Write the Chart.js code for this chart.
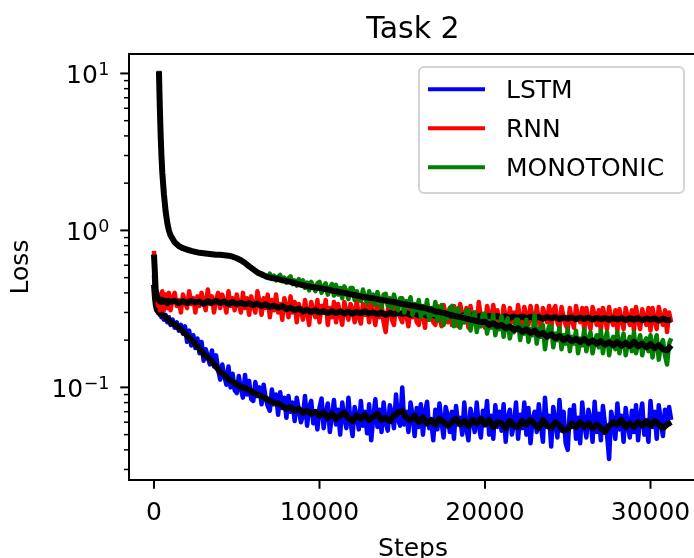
<!DOCTYPE html>
<html><head><meta charset="utf-8">
<script src="https://cdn.jsdelivr.net/npm/chart.js@4/dist/chart.umd.min.js"></script>
<style>
html,body{margin:0;padding:0;background:#fff;overflow:hidden;width:694px;height:558px}
#wrap{position:absolute;left:0;top:0;width:700px;height:558px}
</style>
</head><body><div id="wrap"><canvas id="c" width="700" height="558"></canvas></div>
<script>
const chartTitle = 'Task 2';
const xLabel = 'Steps';
const yLabel = 'Loss';
const seriesNames = ['LSTM', 'RNN', 'MONOTONIC'];

const xTickValues = [0, 10000, 20000, 30000];
const xTickLabels = ['0', '10000', '20000', '30000'];
const yMajorValues = [0.1, 1, 10];
const yTickBase = ['10', '10', '10'];
const yTickExp = ['\u22121', '0', '1'];
const yTickValues = [0.03,0.04,0.05,0.06,0.07,0.08,0.09,0.1,0.2,0.3,0.4,0.5,0.6,0.7,0.8,0.9,1,2,3,4,5,6,7,8,9,10];

// raw (noisy) training curves
const steps = [0,50,100,150,200,250,300,350,400,450,500,600,700,800,900,
1000,1125,1250,1375,1500,1625,1750,1875,
2000,2125,2250,2375,2500,2625,2750,2875,
3000,3125,3250,3375,3500,3625,3750,3875,
4000,4125,4250,4375,4500,4625,4750,4875,
5000,5125,5250,5375,5500,5625,5750,5875,
6000,6125,6250,6375,6500,6625,6750,6875,
7000,7125,7250,7375,7500,7625,7750,7875,
8000,8125,8250,8375,8500,8625,8750,8875,
9000,9125,9250,9375,9500,9625,9750,9875,
10000,10125,10250,10375,10500,10625,10750,10875,
11000,11125,11250,11375,11500,11625,11750,11875,
12000,12125,12250,12375,12500,12625,12750,12875,
13000,13125,13250,13375,13500,13625,13750,13875,
14000,14125,14250,14375,14500,14625,14750,14875,
15000,15125,15250,15375,15500,15625,15750,15875,
16000,16125,16250,16375,16500,16625,16750,16875,
17000,17125,17250,17375,17500,17625,17750,17875,
18000,18125,18250,18375,18500,18625,18750,18875,
19000,19125,19250,19375,19500,19625,19750,19875,
20000,20125,20250,20375,20500,20625,20750,20875,
21000,21125,21250,21375,21500,21625,21750,21875,
22000,22125,22250,22375,22500,22625,22750,22875,
23000,23125,23250,23375,23500,23625,23750,23875,
24000,24125,24250,24375,24500,24625,24750,24875,
25000,25125,25250,25375,25500,25625,25750,25875,
26000,26125,26250,26375,26500,26625,26750,26875,
27000,27125,27250,27375,27500,27625,27750,27875,
28000,28125,28250,28375,28500,28625,28750,28875,
29000,29125,29250,29375,29500,29625,29750,29875,
30000,30125,30250,30375,30500,30625,30750,30875,
31000,31125,31250];

const lstmLoss = [0.52,0.40,0.34,0.31,0.33,0.30,0.31,0.29,0.32,0.28,0.30,0.27,0.29,0.26,0.28,
0.25,0.27,0.24,0.26,0.23,0.25,0.22,0.245,
0.195,0.23,0.185,0.215,0.178,0.205,0.165,0.195,
0.148,0.175,0.158,0.14,0.172,0.136,0.16,0.13,
0.112,0.14,0.118,0.104,0.136,0.1,0.122,0.096,
0.092,0.118,0.098,0.086,0.12,0.09,0.11,0.084,
0.082,0.108,0.088,0.1,0.078,0.104,0.085,0.076,
0.071,0.097,0.078,0.09,0.067,0.093,0.074,0.086,
0.064,0.088,0.07,0.08,0.061,0.086,0.072,0.06,
0.066,0.088,0.057,0.075,0.082,0.059,0.07,0.054,
0.074,0.085,0.055,0.068,0.079,0.052,0.066,0.083,
0.058,0.072,0.05,0.08,0.064,0.055,0.086,0.06,
0.049,0.075,0.066,0.054,0.082,0.057,0.07,0.051,
0.078,0.046,0.064,0.084,0.056,0.072,0.052,0.08,
0.06,0.053,0.077,0.068,0.055,0.09,0.062,0.057,
0.1,0.058,0.07,0.052,0.08,0.066,0.049,0.074,
0.056,0.078,0.05,0.069,0.081,0.055,0.062,0.046,
0.072,0.054,0.079,0.06,0.048,0.075,0.066,0.052,
0.07,0.047,0.076,0.058,0.064,0.05,0.08,0.055,
0.046,0.073,0.062,0.052,0.08,0.057,0.048,0.071,
0.06,0.082,0.05,0.066,0.047,0.077,0.056,0.07,
0.053,0.078,0.045,0.064,0.072,0.05,0.058,0.08,
0.047,0.067,0.055,0.08,0.05,0.074,0.044,0.063,
0.07,0.052,0.078,0.058,0.045,0.086,0.056,0.066,
0.042,0.075,0.06,0.048,0.083,0.053,0.07,0.044,
0.04,0.072,0.056,0.077,0.047,0.064,0.044,0.08,
0.058,0.048,0.072,0.062,0.045,0.081,0.052,0.068,
0.046,0.076,0.058,0.05,0.035,0.07,0.06,0.047,
0.079,0.054,0.066,0.045,0.074,0.058,0.048,0.071,
0.052,0.077,0.046,0.065,0.079,0.05,0.06,0.045,
0.082,0.056,0.07,0.047,0.077,0.061,0.049,0.072,
0.058,0.075,0.062];

const rnnLoss = [0.74,0.52,0.41,0.37,0.40,0.33,0.39,0.31,0.38,0.32,0.41,0.31,0.39,0.32,0.40,
0.31,0.37,0.40,0.33,0.36,0.30,0.39,0.35,
0.32,0.41,0.34,0.37,0.30,0.38,0.33,0.40,
0.35,0.31,0.42,0.34,0.38,0.30,0.36,0.40,
0.32,0.39,0.35,0.30,0.41,0.33,0.37,0.31,
0.39,0.34,0.30,0.40,0.32,0.37,0.29,0.38,
0.33,0.30,0.41,0.35,0.29,0.37,0.32,0.39,
0.28,0.36,0.31,0.39,0.30,0.34,0.27,0.37,
0.33,0.28,0.38,0.30,0.35,0.26,0.34,0.31,
0.27,0.36,0.30,0.25,0.35,0.31,0.28,0.36,
0.26,0.33,0.30,0.36,0.25,0.32,0.28,0.35,
0.26,0.34,0.29,0.25,0.35,0.30,0.27,0.34,
0.31,0.26,0.36,0.28,0.255,0.34,0.29,0.33,
0.26,0.35,0.30,0.25,0.33,0.28,0.34,0.26,
0.225,0.31,0.35,0.27,0.25,0.345,0.30,0.28,
0.26,0.35,0.29,0.245,0.34,0.28,0.32,0.26,
0.25,0.33,0.29,0.24,0.34,0.27,0.31,0.26,
0.25,0.33,0.28,0.245,0.335,0.29,0.26,0.32,
0.25,0.33,0.28,0.245,0.34,0.29,0.26,0.32,
0.24,0.33,0.27,0.30,0.245,0.35,0.28,0.26,
0.24,0.33,0.29,0.245,0.335,0.27,0.31,0.25,
0.24,0.33,0.28,0.24,0.32,0.26,0.30,0.245,
0.335,0.27,0.24,0.325,0.29,0.25,0.33,0.28,
0.235,0.33,0.27,0.24,0.32,0.29,0.26,0.33,
0.235,0.31,0.33,0.26,0.24,0.325,0.28,0.25,
0.235,0.32,0.27,0.24,0.33,0.28,0.26,0.32,
0.23,0.32,0.27,0.235,0.325,0.29,0.25,0.31,
0.23,0.32,0.28,0.235,0.325,0.27,0.25,0.31,
0.23,0.315,0.27,0.235,0.32,0.28,0.25,0.31,
0.23,0.325,0.27,0.235,0.315,0.28,0.25,0.32,
0.23,0.32,0.27,0.235,0.325,0.28,0.25,0.31,
0.225,0.30,0.26];

const monoLoss = [null,null,null,null,null,null,10.4,6.3,4.1,3.0,2.35,1.7,1.32,1.12,0.99,
0.92,0.875,0.83,0.81,0.79,0.777,0.765,0.757,
0.75,0.745,0.74,0.733,0.725,0.722,0.72,0.717,
0.715,0.712,0.71,0.708,0.705,0.702,0.70,0.70,
0.70,0.697,0.695,0.692,0.69,0.685,0.68,0.673,
0.665,0.656,0.645,0.633,0.62,0.605,0.59,0.578,
0.565,0.55,0.54,0.53,0.52,0.515,0.51,0.50,
0.53,0.49,0.515,0.48,0.505,0.52,0.475,0.50,
0.465,0.495,0.51,0.455,0.48,0.445,0.49,0.46,
0.48,0.43,0.465,0.415,0.47,0.44,0.41,0.46,
0.47,0.40,0.44,0.46,0.39,0.43,0.455,0.385,
0.45,0.39,0.43,0.37,0.44,0.41,0.365,0.43,
0.43,0.36,0.41,0.38,0.355,0.42,0.37,0.345,
0.41,0.355,0.39,0.335,0.405,0.36,0.325,0.39,
0.395,0.33,0.37,0.32,0.39,0.345,0.31,0.37,
0.37,0.30,0.355,0.33,0.375,0.29,0.34,0.31,
0.36,0.28,0.33,0.30,0.36,0.27,0.32,0.29,
0.35,0.265,0.31,0.335,0.25,0.30,0.275,0.32,
0.33,0.245,0.295,0.32,0.24,0.285,0.26,0.31,
0.31,0.23,0.275,0.30,0.225,0.265,0.245,0.295,
0.295,0.22,0.265,0.24,0.29,0.215,0.255,0.235,
0.285,0.21,0.25,0.275,0.205,0.24,0.225,0.27,
0.27,0.20,0.245,0.22,0.27,0.195,0.235,0.215,
0.29,0.19,0.235,0.21,0.25,0.175,0.22,0.245,
0.245,0.18,0.22,0.20,0.24,0.175,0.215,0.19,
0.235,0.17,0.21,0.19,0.23,0.165,0.205,0.185,
0.235,0.17,0.20,0.225,0.165,0.195,0.215,0.18,
0.23,0.165,0.20,0.225,0.16,0.195,0.21,0.175,
0.225,0.165,0.195,0.22,0.16,0.19,0.21,0.17,
0.225,0.165,0.19,0.215,0.16,0.195,0.205,0.17,
0.215,0.155,0.19,0.215,0.15,0.185,0.20,0.16,
0.14,0.19,0.205];

// smoothed curves (black)
const smoothSteps = [0,50,100,150,200,250,300,350,400,450,500,600,700,800,900,
1000,1250,1500,1750,2000,2250,2500,2750,3000,3250,3500,3750,4000,4250,4500,4750,
5000,5250,5500,5750,6000,6250,6500,6750,7000,7250,7500,7750,8000,8250,8500,8750,
9000,9250,9500,9750,10000,10250,10500,10750,11000,11250,11500,11750,12000,12250,12500,12750,
13000,13250,13500,13750,14000,14250,14500,14750,15000,15250,15500,15750,16000,16250,16500,16750,
17000,17250,17500,17750,18000,18250,18500,18750,19000,19250,19500,19750,20000,20250,20500,20750,
21000,21250,21500,21750,22000,22250,22500,22750,23000,23250,23500,23750,24000,24250,24500,24750,
25000,25250,25500,25750,26000,26250,26500,26750,27000,27250,27500,27750,28000,28250,28500,28750,
29000,29250,29500,29750,30000,30250,30500,30750,31000,31250];

const lstmSmooth = [0.45,0.38,0.34,0.32,0.31,0.305,0.30,0.30,0.295,0.29,0.29,0.285,0.28,0.272,0.268,
0.26,0.252,0.24,0.228,0.214,0.2,0.19,0.176,0.163,0.155,0.146,0.136,0.125,0.12,0.113,0.109,
0.104,0.101,0.099,0.096,0.093,0.09,0.088,0.085,0.082,0.08,0.079,0.076,0.073,0.075,0.071,0.073,
0.069,0.071,0.068,0.07,0.066,0.069,0.064,0.068,0.063,0.066,0.069,0.064,0.061,0.066,0.063,0.067,
0.062,0.065,0.068,0.062,0.064,0.061,0.066,0.069,0.071,0.064,0.062,0.066,0.06,0.064,0.059,0.062,
0.058,0.063,0.06,0.057,0.06,0.063,0.058,0.061,0.057,0.062,0.059,0.063,0.058,0.062,0.056,0.06,
0.059,0.055,0.061,0.057,0.056,0.061,0.058,0.062,0.058,0.055,0.062,0.057,0.055,0.06,0.057,0.053,
0.054,0.059,0.056,0.06,0.056,0.059,0.055,0.058,0.055,0.052,0.057,0.06,0.058,0.062,0.056,0.059,
0.056,0.06,0.057,0.061,0.057,0.061,0.058,0.055,0.058,0.06];

const rnnSmooth = [0.70,0.55,0.42,0.39,0.37,0.365,0.36,0.355,0.36,0.35,0.36,0.35,0.355,0.345,0.355,
0.35,0.356,0.344,0.354,0.345,0.355,0.348,0.352,0.34,0.354,0.345,0.356,0.345,0.352,0.34,0.35,
0.34,0.346,0.338,0.344,0.335,0.342,0.33,0.338,0.325,0.332,0.322,0.33,0.315,0.322,0.31,0.318,
0.305,0.312,0.302,0.31,0.30,0.306,0.298,0.305,0.298,0.304,0.296,0.303,0.295,0.302,0.297,0.304,
0.296,0.30,0.293,0.299,0.29,0.298,0.292,0.299,0.294,0.298,0.29,0.295,0.288,0.294,0.286,0.292,
0.285,0.291,0.284,0.29,0.284,0.29,0.282,0.289,0.283,0.288,0.28,0.287,0.28,0.286,0.279,0.285,
0.278,0.284,0.277,0.283,0.277,0.283,0.276,0.282,0.276,0.281,0.274,0.28,0.275,0.28,0.273,0.279,
0.274,0.279,0.272,0.278,0.273,0.278,0.271,0.277,0.272,0.277,0.27,0.276,0.271,0.276,0.269,0.276,
0.27,0.276,0.268,0.275,0.27,0.275,0.267,0.274,0.268,0.27];

const monoSmooth = [null,null,null,null,null,null,10.3,6.2,4.1,3.0,2.35,1.7,1.33,1.12,1.0,
0.93,0.84,0.795,0.77,0.755,0.74,0.73,0.72,0.715,0.71,0.705,0.70,0.70,0.695,0.69,0.68,
0.665,0.645,0.62,0.59,0.565,0.54,0.525,0.51,0.50,0.495,0.49,0.482,0.475,0.47,0.462,0.455,
0.447,0.442,0.437,0.433,0.43,0.424,0.42,0.414,0.41,0.404,0.40,0.394,0.39,0.385,0.38,0.376,
0.372,0.369,0.365,0.36,0.357,0.353,0.35,0.345,0.34,0.337,0.333,0.33,0.325,0.322,0.318,0.312,
0.305,0.302,0.298,0.293,0.288,0.284,0.28,0.276,0.272,0.268,0.265,0.261,0.262,0.25,0.256,0.245,
0.25,0.238,0.244,0.232,0.238,0.226,0.234,0.222,0.23,0.216,0.222,0.21,0.218,0.205,0.212,0.20,
0.208,0.197,0.204,0.194,0.203,0.192,0.199,0.19,0.197,0.187,0.194,0.185,0.195,0.184,0.192,0.183,
0.195,0.183,0.19,0.18,0.189,0.178,0.186,0.175,0.172,0.185];

const FONT = 'DejaVu Sans';
Chart.defaults.font.family = FONT;
Chart.defaults.color = '#000';

function pts(xs, ys) {
  const out = [];
  xs.forEach((x, i) => { if (ys[i] !== null && ys[i] !== undefined) out.push({x: x, y: ys[i]}); });
  return out;
}
function lineDs(label, xs, ys, color, width, order, inLegend) {
  return {label, data: pts(xs, ys), borderColor: color, backgroundColor: color,
    borderWidth: width, pointRadius: 0, tension: 0, fill: false,
    borderJoinStyle: 'round', borderCapStyle: 'butt', order, inLegend};
}

const overlay = {
  id: 'overlay',
  afterDraw(chart) {
    const {ctx, chartArea: a} = chart;
    const xs = chart.scales.x, ys = chart.scales.y;
    ctx.save();
    ctx.strokeStyle = '#000';
    ctx.lineWidth = 2;
    xTickValues.forEach(v => {
      const p = xs.getPixelForValue(v);
      ctx.beginPath(); ctx.moveTo(p, a.bottom); ctx.lineTo(p, a.bottom + 8.75); ctx.stroke();
    });
    yTickValues.forEach(v => {
      const p = ys.getPixelForValue(v);
      const major = yMajorValues.includes(v);
      ctx.lineWidth = major ? 2 : 1.5;
      ctx.beginPath(); ctx.moveTo(a.left - (major ? 8.75 : 5), p); ctx.lineTo(a.left, p); ctx.stroke();
    });
    ctx.lineWidth = 2;
    ctx.strokeRect(a.left, a.top, a.right - a.left, a.bottom - a.top);

    // y tick labels: base 10 with superscript exponent
    ctx.fillStyle = '#000';
    ctx.textAlign = 'right';
    ctx.textBaseline = 'alphabetic';
    const rightX = a.left - 19.5;
    yMajorValues.forEach((v, i) => {
      const p = ys.getPixelForValue(v);
      const base = p + 10;
      ctx.font = '17.5px "' + FONT + '"';
      const sw = ctx.measureText(yTickExp[i]).width;
      ctx.fillText(yTickExp[i], rightX, base - 8.5);
      ctx.font = '25px "' + FONT + '"';
      ctx.fillText(yTickBase[i], rightX - sw - 0.5, base);
    });

    // legend box
    const lx = 419, ly = 67, lw = 265, lh = 126;
    ctx.beginPath();
    ctx.roundRect(lx, ly, lw, lh, 5);
    ctx.fillStyle = 'rgba(255,255,255,0.8)';
    ctx.fill();
    ctx.strokeStyle = '#d4d4d4';
    ctx.lineWidth = 2;
    ctx.stroke();
    ctx.font = '25px "' + FONT + '"';
    ctx.textAlign = 'left';
    ctx.textBaseline = 'alphabetic';
    const entries = chart.data.datasets.filter(d => d.inLegend);
    entries.forEach((d, i) => {
      const yy = 89.3 + i * 39;
      ctx.strokeStyle = d.borderColor;
      ctx.lineWidth = 4;
      ctx.beginPath(); ctx.moveTo(428, yy); ctx.lineTo(485, yy); ctx.stroke();
      ctx.fillStyle = '#000';
      ctx.fillText(d.label, 506, yy + 9.1);
    });
    ctx.restore();
  }
};

new Chart(document.getElementById('c'), {
  type: 'line',
  data: {
    datasets: [
      lineDs(seriesNames[0], steps, lstmLoss, '#0000ff', 4.5, 6, true),
      lineDs(seriesNames[1], steps, rnnLoss, '#ff0000', 4.5, 4, true),
      lineDs(seriesNames[2], steps, monoLoss, '#008000', 4.5, 2, true),
      lineDs(seriesNames[0] + ' (smoothed)', smoothSteps, lstmSmooth, '#000000', 6, 5, false),
      lineDs(seriesNames[1] + ' (smoothed)', smoothSteps, rnnSmooth, '#000000', 6, 3, false),
      lineDs(seriesNames[2] + ' (smoothed)', smoothSteps, monoSmooth, '#000000', 6, 1, false)
    ]
  },
  options: {
    responsive: false,
    animation: false,
    devicePixelRatio: 1,
    layout: {padding: {left: 0, right: 3, top: 0, bottom: 0}},
    plugins: {
      legend: {display: false},
      tooltip: {enabled: false},
      title: {
        display: true, text: chartTitle, fullSize: false,
        font: {family: FONT, size: 30, weight: 'normal'}, color: '#000',
        padding: {top: 12, bottom: 6}
      }
    },
    scales: {
      x: {
        type: 'linear', min: -1510, max: 32810,
        grid: {display: false}, border: {display: false},
        afterBuildTicks: s => { s.ticks = xTickValues.map(v => ({value: v})); },
        afterFit: s => { s.height = 78; s.paddingLeft = 0; s.paddingRight = 0; },
        ticks: {
          autoSkip: false, maxRotation: 0, minRotation: 0, padding: 10.5,
          font: {family: FONT, size: 25}, color: '#000',
          callback: (v) => { const i = xTickValues.indexOf(v); return i >= 0 ? xTickLabels[i] : ''; }
        },
        title: {display: true, text: xLabel, font: {family: FONT, size: 25, lineHeight: 0.8}, color: '#000', padding: {top: 0, bottom: -1.5}}
      },
      y: {
        type: 'logarithmic', min: 0.0257, max: 13.3,
        grid: {display: false}, border: {display: false},
        afterBuildTicks: s => { s.ticks = yTickValues.map(v => ({value: v, major: yMajorValues.includes(v)})); },
        afterFit: s => { s.width = 129; s.paddingTop = 0; s.paddingBottom = 0; },
        ticks: {display: false},
        title: {display: true, text: yLabel, font: {family: FONT, size: 25}, color: '#000', padding: {top: 6, bottom: 0}}
      }
    }
  },
  plugins: [overlay]
});
</script></body></html>
